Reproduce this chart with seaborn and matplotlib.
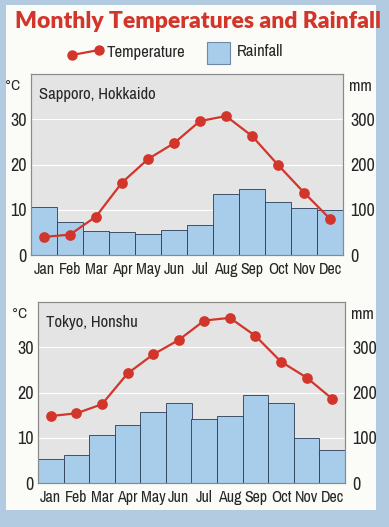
import matplotlib
matplotlib.use("Agg")
import matplotlib.pyplot as plt
import seaborn as sns
from matplotlib import font_manager
from matplotlib.lines import Line2D
from matplotlib.patches import Rectangle

months = ["Jan", "Feb", "Mar", "Apr", "May", "Jun",
          "Jul", "Aug", "Sep", "Oct", "Nov", "Dec"]

sapporo_temp = [4.0, 4.5, 8.5, 16.0, 21.2, 24.7, 29.6, 30.7, 26.3, 19.9, 13.8, 8.0]
sapporo_rain = [107, 74, 53, 50, 46, 56, 67, 135, 146, 117, 104, 100]

tokyo_temp = [14.8, 15.4, 17.4, 24.2, 28.4, 31.6, 35.9, 36.5, 32.5, 26.8, 23.3, 18.6]
tokyo_rain = [53, 62, 105, 129, 158, 177, 141, 147, 195, 177, 100, 72]

temp_ticks = [0, 10, 20, 30]
rain_ticks = [0, 100, 200, 300]

RED = "#d2352a"
BAR = "#a8cdeb"
EDGE = "#2b3a55"
PLOT_BG = "#e4e4e4"
BORDER = "#b3cbe1"
PANEL = "#fbfbf8"

# pick a narrow face if one is installed
names = sorted({f.name for f in font_manager.fontManager.ttflist})
narrow = [n for n in names if "Narrow" in n or "Condensed" in n]
NARROW = narrow[:1] + ["DejaVu Sans"]
FS = 13 if narrow else 10

sns.set_style("white")
plt.rcParams["font.family"] = NARROW

W, H = 389, 527
fig = plt.figure(figsize=(W / 100, H / 100), dpi=100)
fig.patch.set_facecolor(BORDER)
fig.add_artist(Rectangle((6 / W, 1 - 510 / H), 370 / W, 505 / H,
                         transform=fig.transFigure, facecolor=PANEL,
                         edgecolor="none", zorder=0))


def px_axes(left, top, right, bottom):
    return fig.add_axes([left / W, 1 - bottom / H, (right - left) / W, (bottom - top) / H])


def city_panel(ax, temps, rain, name):
    ax.set_facecolor(PLOT_BG)
    sns.barplot(x=months, y=rain, color=BAR, edgecolor=EDGE, linewidth=0.6,
                width=1.0, saturation=1, ax=ax)
    for y in [100, 200, 300]:
        ax.axhline(y, color="white", lw=0.8, zorder=0)
    ax.set_axisbelow(True)

    ax2 = ax.twinx()
    sns.pointplot(x=months, y=temps, color=RED, markers="o", markersize=6.5,
                  linewidth=1.6, ax=ax2)

    ax.set_ylim(0, 400)
    ax2.set_ylim(0, 40)
    for a in (ax, ax2):
        a.set_xlim(-0.5, 11.5)
        a.set_ylabel("")
        a.tick_params(length=0, labelsize=FS)
        for s in a.spines.values():
            s.set_color("#8a8a8a")
            s.set_linewidth(0.8)
    ax.yaxis.set_ticks_position("right")
    ax.yaxis.set_label_position("right")
    ax.set_yticks(rain_ticks)
    ax2.yaxis.set_ticks_position("left")
    ax2.set_yticks(temp_ticks)
    ax.tick_params(axis="x", pad=5, labelsize=FS - 1.5)
    ax.tick_params(axis="y", pad=5)
    ax2.tick_params(axis="y", pad=3)

    ax.text(-0.035, 0.97, "°C", transform=ax.transAxes, ha="right", va="top", fontsize=FS - 2)
    ax.text(1.02, 0.97, "mm", transform=ax.transAxes, ha="left", va="top", fontsize=FS - 1)
    ax2.text(0.025, 0.93, name, transform=ax.transAxes, ha="left", va="top", fontsize=FS - 1)


ax_top = px_axes(31, 74, 343, 255)
city_panel(ax_top, sapporo_temp, sapporo_rain, "Sapporo, Hokkaido")

ax_bot = px_axes(38, 302, 345, 483)
city_panel(ax_bot, tokyo_temp, tokyo_rain, "Tokyo, Honshu")

fig.text(198 / W, 1 - 22 / H, "Monthly Temperatures and Rainfall", ha="center", va="center",
         fontsize=16.5, fontweight="heavy", color=RED, family=["Lato", "DejaVu Sans"])

# legend
fig.add_artist(Line2D([72 / W, 99 / W], [1 - 55 / H, 1 - 50 / H], transform=fig.transFigure,
                      color=RED, lw=1.6, marker="o", markersize=6.5))
fig.text(107 / W, 1 - 53 / H, "Temperature", ha="left", va="center", fontsize=FS - 1)
fig.add_artist(Rectangle((207 / W, 1 - 64 / H), 23 / W, 22 / H, transform=fig.transFigure,
                         facecolor=BAR, edgecolor="#6f8aa8", lw=0.8))
fig.text(237 / W, 1 - 52 / H, "Rainfall", ha="left", va="center", fontsize=FS - 1)

fig.savefig("out.png", dpi=100, facecolor=fig.get_facecolor())
